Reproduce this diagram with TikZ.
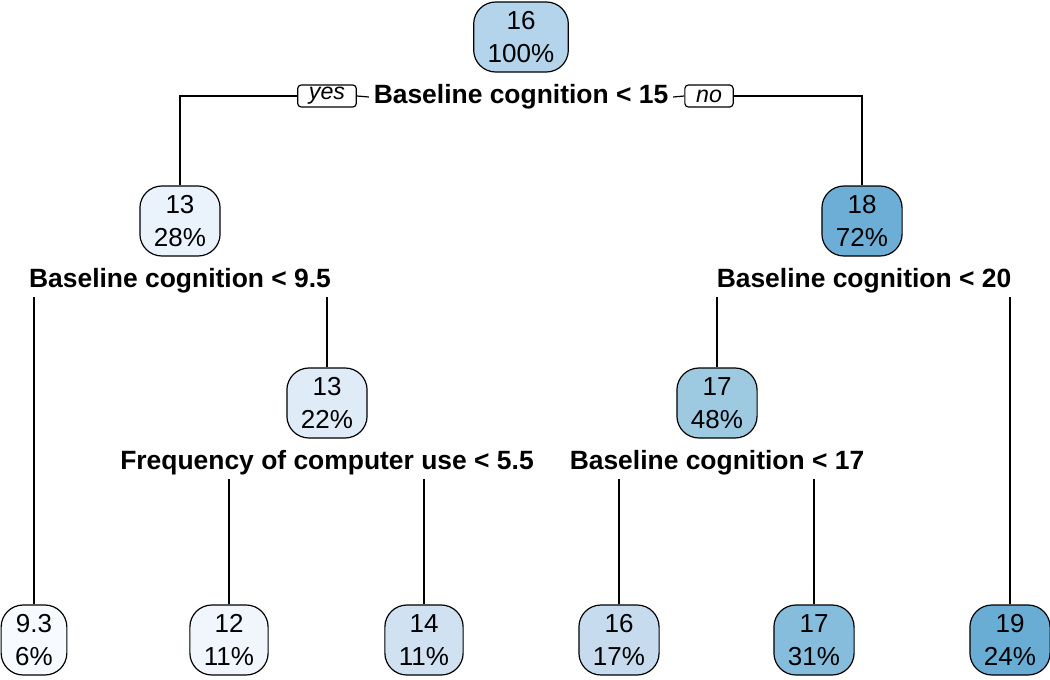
\documentclass[tikz,border=0pt]{standalone}
\usepackage{fontspec}
\setmainfont{Liberation Sans}
\usetikzlibrary{positioning}
\definecolor{fillA}{HTML}{B3D4EA}
\definecolor{fillB}{HTML}{EAF3FB}
\definecolor{fillC}{HTML}{6CAED6}
\definecolor{fillD}{HTML}{DFEBF7}
\definecolor{fillE}{HTML}{9DCAE1}
\definecolor{fillF}{HTML}{F7FBFF}
\definecolor{fillG}{HTML}{F1F6FC}
\definecolor{fillH}{HTML}{D0E1F2}
\definecolor{fillI}{HTML}{C7DBEF}
\definecolor{fillJ}{HTML}{86BCDC}
\definecolor{fillK}{HTML}{69ADD5}

\begin{document}
\begin{tikzpicture}[line width=0.85pt,
  leaf/.style={draw,rounded corners=5.5mm,minimum height=17.5mm,align=center,inner xsep=10pt,inner ysep=1pt,font=\fontsize{18.5}{23.5}\selectfont},
  cond/.style={fill=white,inner xsep=3pt,inner ysep=2pt,font=\bfseries\fontsize{18.8}{22}\selectfont},
  tag/.style={draw,fill=white,rounded corners=2.5pt,inner xsep=8pt,inner ysep=0pt,minimum height=5.5mm,font=\itshape\fontsize{16.5}{18}\selectfont}]
\useasboundingbox (0,0) rectangle (26.25,-16.975);

% tree nodes
\node[leaf,fill=fillA] (n1) at (13.025,-0.925) {16\\100\%};
\node[leaf,fill=fillB] (n2) at (4.5,-5.525) {13\\28\%};
\node[leaf,fill=fillC] (n3) at (21.55,-5.525) {18\\72\%};
\node[leaf,fill=fillD] (n5) at (8.175,-10.075) {13\\22\%};
\node[leaf,fill=fillE] (n6) at (17.925,-10.075) {17\\48\%};
\node[leaf,fill=fillF] (n4) at (0.85,-16) {9.3\\6\%};
\node[leaf,fill=fillG] (n10) at (5.725,-16) {12\\11\%};
\node[leaf,fill=fillH] (n11) at (10.6,-16) {14\\11\%};
\node[leaf,fill=fillI] (n12) at (15.475,-16) {16\\17\%};
\node[leaf,fill=fillJ] (n13) at (20.35,-16) {17\\31\%};
\node[leaf,fill=fillK] (n7) at (25.25,-16) {19\\24\%};

% split labels
\node[cond] (s1) at (13.025,-2.425) {Baseline cognition < 15};
\node[cond] (s2) at (4.5,-7.025) {Baseline cognition < 9.5};
\node[cond] (s3) at (21.6,-7.025) {Baseline cognition < 20};
\node[cond] (s5) at (8.175,-11.575) {Frequency of computer use < 5.5};
\node[cond] (s6) at (17.925,-11.575) {Baseline cognition < 17};
\node[tag] (yes) at (8.175,-2.4) {yes};
\node[tag] (no) at (17.725,-2.4) {no};

% branches
\draw (n2.north) |- (yes.west);
\draw (yes.east) -- (s1.west);
\draw (s1.east) -- (no.west);
\draw (no.east) -| (n3.north);
\draw (n4.north) -- (n4.north |- s2.south);
\draw (n5.north) -- (n5.north |- s2.south);
\draw (n6.north) -- (n6.north |- s3.south);
\draw (n7.north) -- (n7.north |- s3.south);
\draw (n10.north) -- (n10.north |- s5.south);
\draw (n11.north) -- (n11.north |- s5.south);
\draw (n12.north) -- (n12.north |- s6.south);
\draw (n13.north) -- (n13.north |- s6.south);
\end{tikzpicture}
\end{document}
